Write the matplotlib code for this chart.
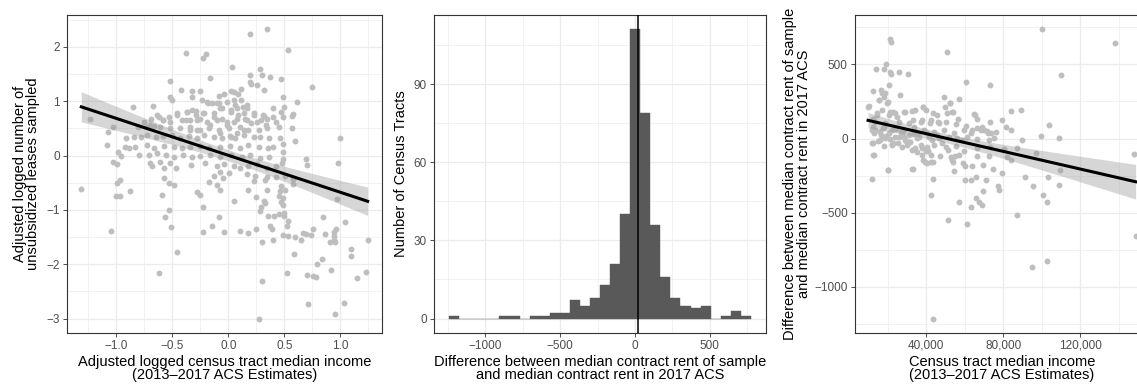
import matplotlib
matplotlib.use("Agg")
import matplotlib.pyplot as plt
import numpy as np
from matplotlib.ticker import FuncFormatter

plt.rcParams['font.family'] = ['Liberation Sans', 'DejaVu Sans']

# -------------------------------
# Panel 1: adjusted income vs adjusted leases sampled
# -------------------------------
inc_adj = [
    0.345, 0.196, 0.529, -0.374, -0.199, -0.229, 0.030, 0.285, 0.30, 0.196,
    0.368, -0.16, 0.47, -0.523, 0.19, 0.20, 0.26, 0.749, 0.32, -0.42,
    -0.327, -0.25, 0.113, 0.024, 0.048, -0.04, -0.08, 0.089, 0.49, -0.52,
    -0.32, -0.50, -0.235, 0.05, -0.19, -0.146, -0.086, -0.01, 0.618, 0.166,
    0.128, -0.677, -0.85, -0.056, 0.08, 0.40, 0.50, -1.236, 0.58, -0.46,
    -0.37, -0.29, -0.23, -0.13, 0.02, 0.14, 0.23, 0.32, 0.345, 0.40,
    0.47, 0.57, 0.43, 0.45, 0.49, -0.62, -0.58, -0.53, -0.41, -0.34,
    -0.25, -0.19, -0.10, -0.01, 0.077, 0.166, 0.255, -0.695, -0.755, -0.81,
    -0.725, -1.075, -1.03, 0.567, -0.665, -0.606, -0.517, -0.43, -0.34, -0.28,
    -0.175, -0.086, 0.003, 0.107, 0.18, 0.27, 0.345, -0.91, -0.84, -0.784,
    -0.725, -0.65, -0.58, -0.50, -0.43, -0.35, -0.28, -0.22, -0.13, -0.056,
    0.018, 0.062, 0.137, 0.226, 0.285, 0.36, 1.00, 0.60, 0.46, -1.087,
    -0.927, -0.888, -0.83, -0.725, -0.665, -0.576, -0.487, -0.41, -0.34, -0.25,
    -0.175, -0.07, 0.018, 0.107, 0.18, 0.27, 0.354, 0.40, 0.49, -0.986,
    -0.957, -0.80, -0.71, -0.636, -0.56, -0.487, -0.404, -0.32, -0.25, -0.16,
    -0.07, 0.027, 0.12, 0.196, 0.285, 0.36, 0.49, 0.487, 0.69, 0.70,
    0.98, -1.03, -0.998, -0.70, -0.61, -0.52, -0.33, -0.21, -0.10, -0.04,
    0.05, 0.107, 0.18, 0.255, 0.345, 0.43, 0.48, -0.68, -0.576, -0.47,
    -0.077, -0.13, -0.048, 0.003, 0.166, 0.24, 0.345, 0.43, 0.51, 0.58,
    -0.57, -0.53, -0.99, -0.97, -0.487, -0.175, -0.10, 0.23, 0.33, 0.58,
    0.47, -1.313, -0.28, -0.25, -0.077, 0.18, 0.345, 0.46, 0.51, -0.88,
    -1.007, -0.97, -0.59, 0.25, 0.457, 0.49, 0.048, 0.32, 0.47, 0.33,
    0.97, 0.29, 0.49, -0.226, -0.53, 0.285, 0.354, 0.457, 0.50, -0.567,
    -0.08, 0.41, 0.50, 0.85, 0.53, 1.04, 0.52, -0.146, -0.51, 0.37,
    0.39, 0.76, 0.96, 0.25, -1.05, 0.107, -0.23, -0.04, 0.175, 0.665,
    0.737, 0.695, 0.487, 0.53, 0.945, 0.864, 0.94, 0.60, 0.65, 0.94,
    1.245, 0.91, 0.955, 0.30, 0.40, 1.093, 0.59, 1.093, -0.457, 0.835,
    0.79, 0.92, 0.52, -0.62, 1.23, 0.70, 0.755, 0.785, 1.146, 0.30,
    0.716, 1.03, 0.955, 0.276,
    -0.37, -0.32, -0.29, -0.28, -0.38, -0.22, -0.18, -0.10, -0.07, 0.02,
    0.06, 0.11, 0.09, 0.05, -0.01, -0.06, -0.13, -0.16, 0.15, 0.20,
    0.14, 0.08, 0.02, -0.07, 0.17, 0.23, 0.29, 0.31, 0.34, -0.46,
    -0.52, -0.58, -0.64, -0.70, -0.25, -0.34,
]
leases_adj = [
    2.32, 2.23, 1.95, 1.88, 1.86, 1.80, 1.63, 1.60, 1.49, 1.48,
    1.45, 1.42, 1.41, 1.37, 1.36, 1.31, 1.29, 1.26, 1.21, 1.21,
    1.19, 1.19, 1.23, 1.19, 1.16, 1.13, 1.09, 1.13, 1.07, 1.07,
    1.08, 1.02, 1.02, 1.02, 0.99, 0.96, 0.96, 0.99, 0.99, 0.93,
    0.90, 0.91, 0.90, 0.88, 0.87, 0.88, 0.90, 0.68, 0.76, 0.78,
    0.81, 0.82, 0.79, 0.78, 0.81, 0.78, 0.75, 0.72, 0.68, 0.70,
    0.81, 0.72, 0.62, 0.53, 0.71, 0.71, 0.66, 0.71, 0.65, 0.65,
    0.68, 0.62, 0.65, 0.62, 0.68, 0.65, 0.62, 0.68, 0.62, 0.53,
    0.53, 0.44, 0.52, 0.50, 0.54, 0.53, 0.50, 0.50, 0.53, 0.47,
    0.50, 0.47, 0.50, 0.52, 0.47, 0.47, 0.50, 0.32, 0.34, 0.34,
    0.38, 0.35, 0.36, 0.38, 0.32, 0.36, 0.32, 0.38, 0.35, 0.32,
    0.36, 0.32, 0.38, 0.34, 0.34, 0.32, 0.33, 0.27, 0.32, 0.19,
    0.16, 0.13, 0.16, 0.19, 0.13, 0.18, 0.16, 0.13, 0.16, 0.18,
    0.13, 0.16, 0.18, 0.13, 0.19, 0.16, 0.13, 0.15, 0.21, 0.07,
    -0.01, 0.01, 0.01, 0.04, 0.01, -0.02, 0.01, -0.02, -0.01, 0.01,
    -0.02, 0.01, -0.03, 0.01, -0.05, -0.02, 0.07, -0.07, -0.07, -0.17,
    -0.14, -0.11, -0.16, -0.14, -0.11, -0.14, -0.17, -0.14, -0.19, -0.16,
    -0.20, -0.23, -0.20, -0.16, -0.23, -0.20, -0.14, -0.20, -0.23, -0.23,
    -0.30, -0.37, -0.42, -0.33, -0.34, -0.37, -0.39, -0.39, -0.37, -0.43,
    -0.42, -0.50, -0.50, -0.45, -0.54, -0.48, -0.54, -0.46, -0.45, -0.52,
    -0.56, -0.61, -0.67, -0.72, -0.64, -0.64, -0.63, -0.66, -0.64, -0.66,
    -0.74, -0.74, -0.72, -0.76, -0.74, -0.79, -0.84, -0.83, -0.85, -0.88,
    -0.80, -0.95, -0.91, -0.95, -1.00, -1.03, -1.11, -1.08, -1.06, -1.13,
    -1.14, -1.12, -1.12, -1.14, -1.21, -1.23, -1.30, -1.29, -1.32, -1.30,
    -1.35, -1.35, -1.35, -1.35, -1.38, -1.38, -1.41, -1.41, -1.42, -1.42,
    -1.46, -1.45, -1.47, -1.48, -1.41, -1.44, -1.49, -1.50, -1.55, -1.56,
    -1.56, -1.60, -1.60, -1.60, -1.56, -1.72, -1.81, -1.84, -1.77, -1.90,
    -2.00, -2.10, -2.16, -2.16, -2.14, -2.19, -2.21, -2.23, -2.25, -2.30,
    -2.74, -2.71, -2.92, -3.00,
    0.81, 0.84, 0.74, 0.65, 0.65, 0.78, 0.96, 0.96, 0.87, 0.84,
    0.93, 1.02, 0.74, 0.62, 0.56, 0.68, 0.71, 0.56, 0.68, 0.59,
    0.47, 0.41, 0.35, 0.41, 0.87, 0.78, 0.65, 0.74, 0.56, 0.74,
    0.62, 0.65, 0.74, 0.56, 0.47, 0.47,
]

# -------------------------------
# Panel 2: histogram of rent differences (30 bins)
# -------------------------------
hist_start = -1242
hist_binwidth = 67.2
hist_counts = [1, 0, 0, 0, 0, 1, 1, 0, 1, 1,
               2, 2, 7, 5, 8, 13, 21, 40, 111, 79,
               36, 16, 8, 5, 4, 5, 0, 1, 3, 1]
diff_marker = 19

# -------------------------------
# Panel 3: tract income vs rent difference
# -------------------------------
tract_income = [
    100270, 137860, 21470, 21800, 50570, 19390, 14020, 18000, 21120, 21990,
    26140, 30650, 109800, 60440, 72910, 20600, 12460, 16620, 18870, 26320,
    49180, 52300, 56970, 15400, 18000, 20080, 9860, 38440, 39650, 32730,
    28400, 22850, 24930, 20600, 14540, 17140, 84160, 89350, 45720, 50920,
    54030, 64770, 66150, 56630, 12630, 12460, 103740, 73080, 81220, 83820,
    79490, 33250, 37060, 42250, 46580, 50050, 55240, 60440, 66500, 69960,
    71700, 76030, 73430, 68230, 63030, 59570, 54370, 49180, 43980, 38790,
    33590, 28400, 23200, 18000, 13670, 12800, 16620, 20600, 25800, 30990,
    36190, 41390, 46580, 51780, 56110, 61300, 66500, 72560, 75160, 89870,
    99400, 108920, 12280, 15230, 18340, 22120, 25580, 29850, 34440, 37060,
    40520, 43980, 50050, 55240, 59570, 66500, 73080, 80350, 87280, 12460,
    35480, 39650, 42250, 47100, 52640, 56970, 66500, 72560, 82090, 83820,
    96810, 148000, 38440, 40520, 42250, 54030, 54370, 58870, 63550, 69610,
    74810, 79150, 32560, 19940, 11760, 43640, 60270, 63380, 65980, 71180,
    77240, 77760, 91090, 103390, 109450, 108920, 95610, 69440, 42250, 100440,
    102690, 56970, 63030, 65630, 67360, 69100, 86940, 51260, 60960, 148600,
    102520, 95080, 43460,
    17040, 10100, 15650, 19640, 21350, 14450, 23940, 29120, 34300, 38600,
    43780, 49840, 53300, 52430, 13580, 18760, 25650, 30830, 37770, 42070,
    46370, 11860, 16170, 22230, 27410, 33420, 40360, 45540, 18760, 23940,
    29120, 35180, 42950, 48130, 11860, 22230, 27410, 37770, 32590, 12700,
    41190, 51550, 55030, 43780, 39480, 20150, 32900, 37770, 65390, 68850,
    72300, 63680, 58500, 53320, 60200,
    15800, 19200, 22600, 26800, 29500, 33100, 24400, 28600, 17600, 31600,
    35600, 21200,
]
rent_diff = [
    735, 646, 668, 652, 585, 502, 466, 466, 451, 435,
    451, 437, 428, 383, 361, 361, 323, 327, 305, 294,
    278, 242, 265, 260, 278, 249, 215, 211, 193, 188,
    182, 182, 148, 159, 159, 193, 188, 193, 159, 175,
    182, 166, 130, 130, 81, 130, 92, 114, 76, 58,
    126, 126, 114, 126, 103, 114, 99, 85, 70, 58,
    54, 47, 36, 58, 36, 58, 36, 58, 47, 58,
    81, 58, 81, 81, 58, 36, 25, 36, 13, 25,
    13, 9, 2, 13, 2, 13, -4, -9, 2, -9,
    18, 2, -27, -20, -49, -36, -27, -43, -65, -43,
    -58, -43, -54, -49, -87, -65, -54, -72, -65, -110,
    -94, -87, -110, -121, -126, -110, -117, -117, -126, -143,
    -99, -103, -148, -166, -161, -161, -222, -166, -188, -177,
    -206, -233, -206, -215, -273, -273, -282, -278, -256, -282,
    -323, -350, -256, -256, -211, -316, -323, -356, -379, -379,
    -428, -430, -462, -401, -430, -446, -513, -547, -576, -659,
    -823, -865, -1213,
    305, 220, 260, 238, 182, 171, 171, 182, 193, 215,
    171, 215, 182, 238, 114, 103, 114, 103, 126, 103,
    114, 58, 47, 58, 36, 58, 36, 25, 3, 13,
    -9, 3, -9, -31, -27, -42, -54, -65, -76, -110,
    -87, -76, -121, -155, -155, -210, -206, -110, 159, 81,
    36, 58, -9, -143, -188,
    -12, 20, -30, 45, -18, 30, 62, 8, 68, -25,
    40, 0,
]

# -------------------------------
# Style (theme_bw look)
# -------------------------------
POINT = '#BEBEBE'
GRID = '#EBEBEB'
BORDER = '#333333'
TICKTXT = '#4D4D4D'
TITLE_SIZE = 10.5
TICK_SIZE = 8.5


def style_axes(ax, xmaj, xmin, ymaj, ymin):
    ax.set_xticks(xmaj)
    ax.set_xticks(xmin, minor=True)
    ax.set_yticks(ymaj)
    ax.set_yticks(ymin, minor=True)
    ax.grid(which='major', color=GRID, lw=0.9, zorder=0)
    ax.grid(which='minor', color=GRID, lw=0.45, zorder=0)
    ax.set_axisbelow(True)
    for s in ax.spines.values():
        s.set_color(BORDER)
        s.set_linewidth(0.8)
    ax.tick_params(which='major', length=3, width=0.6, color=BORDER,
                   labelcolor=TICKTXT, labelsize=TICK_SIZE, pad=2)
    ax.tick_params(which='minor', length=0)


def expand(vals, frac=0.05):
    lo, hi = min(vals), max(vals)
    r = hi - lo
    return lo - frac * r, hi + frac * r


def lm_band(ax, x, y, n_pts=100):
    # linear fit with 95% confidence band, like geom_smooth(method = "lm")
    x = np.asarray(x, float)
    y = np.asarray(y, float)
    slope, icpt = np.polyfit(x, y, 1)
    n = len(x)
    resid = y - (icpt + slope * x)
    s = np.sqrt(np.sum(resid ** 2) / (n - 2))
    sxx = np.sum((x - x.mean()) ** 2)
    xs = np.linspace(x.min(), x.max(), n_pts)
    fit = icpt + slope * xs
    se = s * np.sqrt(1 / n + (xs - x.mean()) ** 2 / sxx)
    ax.fill_between(xs, fit - 1.97 * se, fit + 1.97 * se,
                    color='#999999', alpha=0.4, lw=0, zorder=3)
    ax.plot(xs, fit, color='black', lw=2.2, zorder=4)


W, H = 1137, 385
fig = plt.figure(figsize=(W / 100, H / 100), dpi=100)


def px_axes(left, right, top=15, bottom=333):
    return fig.add_axes([left / W, 1 - bottom / H, (right - left) / W, (bottom - top) / H])


# ---- panel 1
ax1 = px_axes(67, 382)
ax1.scatter(inc_adj, leases_adj, s=18, color=POINT, lw=0, zorder=2)
lm_band(ax1, inc_adj, leases_adj)
ax1.set_xlim(*expand(inc_adj))
ax1.set_ylim(*expand(leases_adj))
style_axes(ax1, [-1.0, -0.5, 0.0, 0.5, 1.0], [-1.25, -0.75, -0.25, 0.25, 0.75, 1.25],
           [-3, -2, -1, 0, 1, 2], [-2.5, -1.5, -0.5, 0.5, 1.5, 2.5])
ax1.xaxis.set_major_formatter(FuncFormatter(lambda v, p: f"{v:.1f}".replace('-', '\u2212')))
ax1.set_xlabel("Adjusted logged census tract median income\n(2013\u20132017 ACS Estimates)",
               fontsize=TITLE_SIZE, linespacing=0.95)
ax1.set_ylabel("Adjusted logged number of\nunsubsidized leases sampled",
               fontsize=TITLE_SIZE, linespacing=0.95)
ax1.xaxis.set_label_coords(0.5, -0.068)
ax1.yaxis.set_label_coords(-0.085, 0.5)

# ---- panel 2
ax2 = px_axes(434, 766)
edges = hist_start + hist_binwidth * np.arange(len(hist_counts))
ax2.bar(edges, hist_counts, width=hist_binwidth, align='edge', color='#595959',
        edgecolor='#595959', lw=0.3, zorder=2)
ax2.axvline(diff_marker, color='black', lw=1.1, zorder=3)
ax2.set_xlim(*expand([edges[0], edges[-1] + hist_binwidth]))
ax2.set_ylim(*expand([0, max(hist_counts)]))
style_axes(ax2, [-1000, -500, 0, 500], [-1250, -750, -250, 250, 750],
           [0, 30, 60, 90], [15, 45, 75, 105])
ax2.set_xlabel("Difference between median contract rent of sample\nand median contract rent in 2017 ACS",
               fontsize=TITLE_SIZE, linespacing=0.95)
ax2.set_ylabel("Number of Census Tracts", fontsize=TITLE_SIZE)
ax2.xaxis.set_label_coords(0.5, -0.068)
ax2.yaxis.set_label_coords(-0.078, 0.5)

# ---- panel 3
ax3 = px_axes(854.7, 1149)
ax3.scatter(tract_income, rent_diff, s=18, color=POINT, lw=0, zorder=2)
lm_band(ax3, tract_income, rent_diff)
ax3.set_xlim(*expand(tract_income))
ax3.set_ylim(*expand(rent_diff))
style_axes(ax3, [40000, 80000, 120000], [20000, 60000, 100000, 140000],
           [-1000, -500, 0, 500], [-1250, -750, -250, 250, 750])
ax3.xaxis.set_major_formatter(FuncFormatter(lambda v, p: f"{v:,.0f}"))
ax3.set_xlabel("Census tract median income\n(2013\u20132017 ACS Estimates)",
               fontsize=TITLE_SIZE, linespacing=0.95)
ax3.set_ylabel("Difference between median contract rent of sample\nand median contract rent in 2017 ACS",
               fontsize=TITLE_SIZE, linespacing=0.95)
ax3.xaxis.set_label_coords(0.5, -0.068)
ax3.yaxis.set_label_coords(-0.15, 0.5)

fig.savefig('out.png', dpi=100)
